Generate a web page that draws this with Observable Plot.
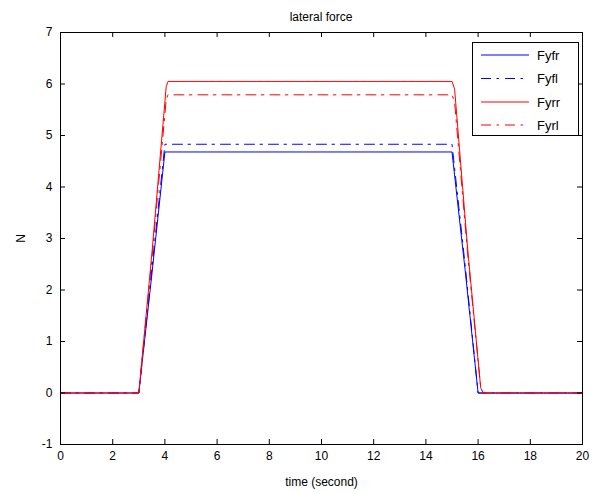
<!DOCTYPE html>
<html>
<head>
<meta charset="utf-8">
<script src="https://cdn.jsdelivr.net/npm/d3@7"></script>
<script src="https://cdn.jsdelivr.net/npm/@observablehq/plot@0.6"></script>
<style>
  html, body { margin: 0; padding: 0; background: #fff; }
  #chart { width: 603px; height: 493px; }
  svg { font-family: Arial, "Liberation Sans", sans-serif; }
</style>
</head>
<body>
<div id="chart"></div>
<script>
// Data
const seriesNames = ["Fyfr", "Fyfl", "Fyrr", "Fyrl"];
const seriesColors = ["#0000ff", "#0000ff", "#ff0000", "#ff0000"];
const seriesDash = [null, "10,5.5,2.5,6", null, "10,5.5,2.5,6"];
const tFyfr = [0, 3.0, 3.5, 4.0, 15.0, 15.5, 16.0, 20];
const vFyfr = [0, 0, 2.3, 4.68, 4.68, 2.4, 0, 0];
const tFyfl = [0, 3.0, 3.5, 4.0, 15.0, 15.5, 16.0, 20];
const vFyfl = [0, 0, 2.4, 4.83, 4.83, 2.5, 0, 0];
const tFyrr = [0, 3.0, 3.5, 4.05, 4.12, 15.0, 15.1, 15.6, 16.1, 16.2, 20];
const vFyrr = [0, 0, 2.7, 5.95, 6.05, 6.05, 5.9, 2.8, 0.1, 0, 0];
const tFyrl = [0, 3.0, 3.5, 4.05, 4.12, 15.0, 15.1, 15.6, 16.1, 16.2, 20];
const vFyrl = [0, 0, 2.6, 5.7, 5.79, 5.79, 5.65, 2.7, 0.1, 0, 0];
const xTicks = [0, 2, 4, 6, 8, 10, 12, 14, 16, 18, 20];
const yTicks = [-1, 0, 1, 2, 3, 4, 5, 6, 7];

const times = [tFyfr, tFyfl, tFyrr, tFyrl];
const vals = [vFyfr, vFyfl, vFyrr, vFyrl];
const rows = [];
seriesNames.forEach((name, i) => {
  times[i].forEach((t, j) => rows.push({series: name, t, v: vals[i][j]}));
});

const lineMarks = seriesNames.map((name, i) =>
  Plot.line(rows.filter(d => d.series === name), {
    x: "t", y: "v", stroke: seriesColors[i], strokeWidth: 1,
    strokeDasharray: seriesDash[i] || undefined
  })
);

const W = 603, H = 493, mL = 60, mR = 21, mT = 32, mB = 49;
const xDom = [0, 20], yDom = [-1, 7];
const tickPx = 5;
const dyUnit = tickPx * (yDom[1] - yDom[0]) / (H - mT - mB);
const dxUnit = tickPx * (xDom[1] - xDom[0]) / (W - mL - mR);
const fmt = d => String(d);

const plot = Plot.plot({
  width: W,
  height: H,
  marginLeft: mL,
  marginRight: mR,
  marginTop: mT,
  marginBottom: mB,
  style: {background: "#fff", color: "#000", fontSize: "12px", fontFamily: "Arial, 'Liberation Sans', sans-serif"},
  x: {domain: xDom},
  y: {domain: yDom},
  marks: [
    ...lineMarks,
    // inward tick marks on all four sides
    Plot.ruleX(xTicks, {x: d => d, y1: yDom[0], y2: yDom[0] + dyUnit, stroke: "#000"}),
    Plot.ruleX(xTicks, {x: d => d, y1: yDom[1], y2: yDom[1] - dyUnit, stroke: "#000"}),
    Plot.ruleY(yTicks, {y: d => d, x1: xDom[0], x2: xDom[0] + dxUnit, stroke: "#000"}),
    Plot.ruleY(yTicks, {y: d => d, x1: xDom[1], x2: xDom[1] - dxUnit, stroke: "#000"}),
    Plot.frame({stroke: "#000", strokeWidth: 1}),
    Plot.axisX({ticks: xTicks, tickSize: 0, tickPadding: 7, tickFormat: fmt, label: "time (second)", labelAnchor: "center", labelArrow: "none", labelOffset: 41, fontSize: 12}),
    Plot.axisY({ticks: yTicks, tickSize: 0, tickPadding: 8, tickFormat: fmt, label: "N", labelAnchor: "center", labelArrow: "none", labelOffset: 44, fontSize: 12})
  ]
});

document.getElementById("chart").appendChild(plot);

const svg = d3.select(plot);
// Title
svg.append("text")
  .attr("x", 321).attr("y", 21)
  .attr("text-anchor", "middle")
  .attr("font-size", 12)
  .attr("fill", "#000")
  .text("lateral force");

// Legend
const lg = svg.append("g");
lg.append("rect")
  .attr("x", 472.5).attr("y", 42.5).attr("width", 106).attr("height", 93)
  .attr("fill", "#fff").attr("stroke", "#000");
const rowY = [55, 78.5, 102, 125];
seriesNames.forEach((name, i) => {
  lg.append("line")
    .attr("x1", 481).attr("x2", 529).attr("y1", rowY[i]).attr("y2", rowY[i])
    .attr("stroke", seriesColors[i]).attr("stroke-width", 1)
    .attr("stroke-dasharray", seriesDash[i]);
  lg.append("text")
    .attr("x", 537).attr("y", rowY[i]).attr("dy", "0.35em")
    .attr("text-anchor", "start")
    .attr("font-size", 13).attr("fill", "#000")
    .text(name);
});
</script>
</body>
</html>
